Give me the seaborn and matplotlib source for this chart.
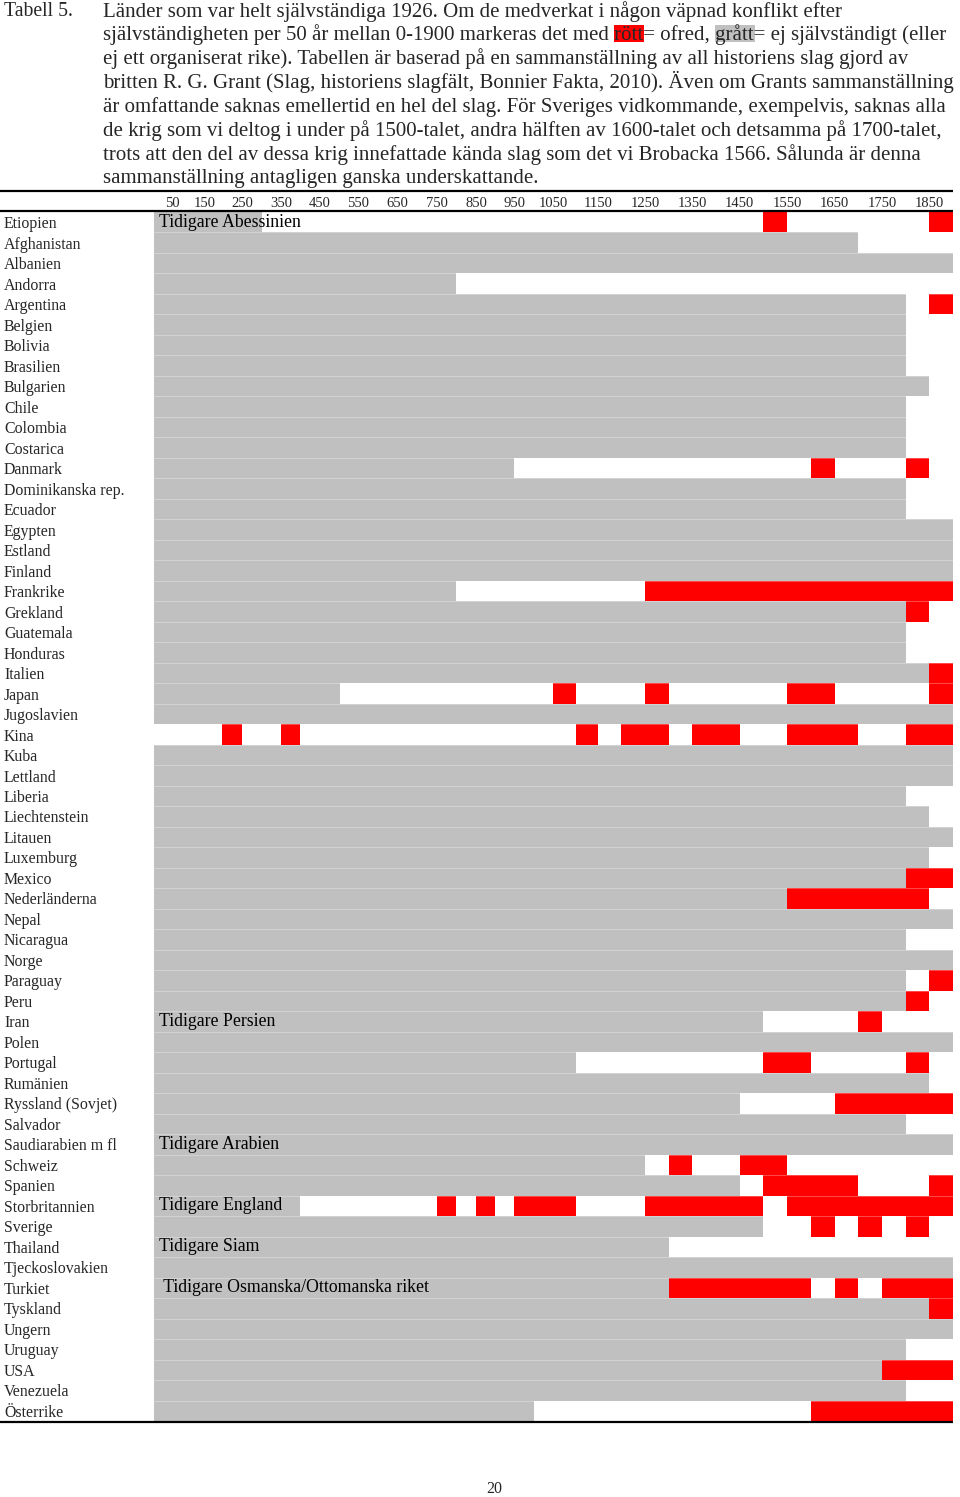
import numpy as np
import pandas as pd
import matplotlib
matplotlib.use("Agg")
import matplotlib.pyplot as plt
import seaborn as sns
from matplotlib.colors import ListedColormap
from matplotlib.lines import Line2D
from matplotlib.patches import Rectangle

# ---------------- data ----------------
countries = [
    "Etiopien", "Afghanistan", "Albanien", "Andorra", "Argentina", "Belgien",
    "Bolivia", "Brasilien", "Bulgarien", "Chile", "Colombia", "Costarica",
    "Danmark", "Dominikanska rep.", "Ecuador", "Egypten", "Estland", "Finland",
    "Frankrike", "Grekland", "Guatemala", "Honduras", "Italien", "Japan",
    "Jugoslavien", "Kina", "Kuba", "Lettland", "Liberia", "Liechtenstein",
    "Litauen", "Luxemburg", "Mexico", "Nederländerna", "Nepal", "Nicaragua",
    "Norge", "Paraguay", "Peru", "Iran", "Polen", "Portugal", "Rumänien",
    "Ryssland (Sovjet)", "Salvador", "Saudiarabien m fl", "Schweiz", "Spanien",
    "Storbritannien", "Sverige", "Thailand", "Tjeckoslovakien", "Turkiet",
    "Tyskland", "Ungern", "Uruguay", "USA", "Venezuela", "Österrike",
]

# first 50-year period (start year) that is not grey (1900 = grey throughout)
independent_from = [
    300, 1700, 1900, 800, 1800, 1800, 1800, 1800, 1850, 1800,
    1800, 1800, 950, 1800, 1800, 1900, 1900, 1900, 800, 1800,
    1800, 1800, 1850, 500, 1900, 0, 1900, 1900, 1800, 1850,
    1900, 1850, 1800, 1550, 1900, 1800, 1900, 1800, 1800, 1500,
    1900, 1100, 1850, 1450, 1800, 1900, 1250, 1450, 400, 1500,
    1300, 1900, 1300, 1850, 1900, 1800, 1750, 1800, 1000,
]

# start years of 50-year periods with armed conflict (red)
war_periods = [
    [1500, 1850], [], [], [], [1850], [], [], [], [], [],
    [], [], [1600, 1800], [], [], [], [], [],
    [1250, 1300, 1350, 1400, 1450, 1500, 1550, 1600, 1650, 1700, 1750, 1800, 1850],
    [1800], [], [], [1850],
    [1050, 1250, 1550, 1600, 1850],
    [],
    [200, 350, 1100, 1200, 1250, 1350, 1400, 1550, 1600, 1650, 1800, 1850],
    [], [], [], [], [], [],
    [1800, 1850],
    [1550, 1600, 1650, 1700, 1750, 1800],
    [], [], [], [1850], [1800], [1700], [],
    [1500, 1550, 1800],
    [],
    [1650, 1700, 1750, 1800, 1850],
    [], [],
    [1300, 1450, 1500],
    [1500, 1550, 1600, 1650, 1850],
    [750, 850, 950, 1000, 1050, 1250, 1300, 1350, 1400, 1450, 1550, 1600,
     1650, 1700, 1750, 1800, 1850],
    [1600, 1700, 1800],
    [], [],
    [1300, 1350, 1400, 1450, 1500, 1550, 1650, 1750, 1800, 1850],
    [1850], [], [],
    [1750, 1800, 1850],
    [],
    [1600, 1650, 1700, 1750, 1800, 1850],
]

tick_years = [50, 150, 250, 350, 450, 550, 650, 750, 850, 950, 1050,
              1150, 1250, 1350, 1450, 1550, 1650, 1750, 1850]

annotations = [
    ("Etiopien", "Tidigare Abessinien"),
    ("Iran", "Tidigare Persien"),
    ("Saudiarabien m fl", "Tidigare Arabien"),
    ("Storbritannien", "Tidigare England"),
    ("Thailand", "Tidigare Siam"),
    ("Turkiet", " Tidigare Osmanska/Ottomanska riket"),
]

title_label = "Tabell 5."
caption_lines = [
    "Länder som var helt självständiga 1926. Om de medverkat i någon väpnad konflikt efter",
    "självständigheten per 50 år mellan 0-1900 markeras det med rött= ofred, grått= ej självständigt (eller",
    "ej ett organiserat rike). Tabellen är baserad på en sammanställning av all historiens slag gjord av",
    "britten R. G. Grant (Slag, historiens slagfält, Bonnier Fakta, 2010). Även om Grants sammanställning",
    "är omfattande saknas emellertid en hel del slag. För Sveriges vidkommande, exempelvis, saknas alla",
    "de krig som vi deltog i under på 1500-talet, andra hälften av 1600-talet och detsamma på 1700-talet,",
    "trots att den del av dessa krig innefattade kända slag som det vi Brobacka 1566. Sålunda är denna",
    "sammanställning antagligen ganska underskattande.",
]
highlight_words = [("rött", "#FF0000"), ("grått", "#C0C0C0")]
page_number = "20"

assert len(countries) == len(independent_from) == len(war_periods)

# ---------------- build matrix ----------------
period_starts = np.arange(0, 1900, 50)
status = np.zeros((len(countries), len(period_starts)))
for i, (ind, wars) in enumerate(zip(independent_from, war_periods)):
    status[i, period_starts >= ind] = 1
    status[i, np.isin(period_starts, wars)] = 2
df = pd.DataFrame(status, index=countries, columns=period_starts)

# ---------------- style ----------------
sns.set_style("white")
plt.rcParams["font.family"] = ["Liberation Serif", "DejaVu Serif"]

W, H = 960, 1497
fig = plt.figure(figsize=(W / 100, H / 100), dpi=100)

TOP, BOT, LEFT, RIGHT = 212, 1421, 154, 953
ax = fig.add_axes([LEFT / W, 1 - BOT / H, (RIGHT - LEFT) / W, (BOT - TOP) / H])

cmap = ListedColormap(["#C0C0C0", "#FFFFFF", "#FF0000"])
sns.heatmap(df, ax=ax, cmap=cmap, vmin=-0.5, vmax=2.5, cbar=False,
            xticklabels=False, yticklabels=False)

# non-uniform column widths as in the original table
anchor_col = [0, 1, 2, 3, 4, 5, 6, 7, 8, 9, 10, 11, 12, 13, 14, 15, 16, 17, 18,
              19, 20, 21, 22, 23, 24, 25, 38]
anchor_px = [154, 172, 188, 205, 222, 242, 262, 281, 300, 320, 340, 358, 378,
             397, 417, 436.5, 456, 476, 494.5, 514, 534, 553, 576, 598, 621,
             645, 953]


def fwd(x):
    return np.interp(np.asarray(x, dtype=float), anchor_col, anchor_px)


def inv(p):
    return np.interp(np.asarray(p, dtype=float), anchor_px, anchor_col)


ax.set_xscale("function", functions=(fwd, inv))
ax.set_xlim(0, len(period_starts))
ax.set_ylim(len(countries), 0)

# subtle row separators
ax.hlines(np.arange(1, len(countries)), 0, len(period_starts),
          colors="white", alpha=0.35, lw=0.6)

# column labels on top
ax.xaxis.tick_top()
ax.set_xticks([y / 50 for y in tick_years], [str(y) for y in tick_years])
ax.xaxis.set_minor_locator(matplotlib.ticker.NullLocator())
ax.tick_params(axis="x", length=0, pad=1.5, labelsize=10.5,
               top=True, labeltop=True, bottom=False, labelbottom=False)

# country labels, left aligned at page margin
ax.set_yticks(np.arange(len(countries)) + 0.5, countries)
for lab in ax.get_yticklabels():
    lab.set_ha("left")
    lab.set_rotation(0)
ax.tick_params(axis="y", length=0, pad=(LEFT - 4) * 0.72, labelsize=11.4)

for s in ax.spines.values():
    s.set_visible(False)

for country, txt in annotations:
    i = countries.index(country)
    ax.annotate(txt, xy=(0, i + 0.5), xytext=(5 * 0.72, 0),
                textcoords="offset points", ha="left", va="center",
                fontsize=12.75, color="black")

# rules
for y_px in (191, 210.5, 1421.5):
    fig.add_artist(Line2D([0, RIGHT / W], [1 - y_px / H] * 2,
                          color="black", lw=1.6, solid_capstyle="butt"))

# caption
FS = 15.05
renderer = fig.canvas.get_renderer()


def text_w(s):
    t = fig.text(0, 0, s, fontsize=FS)
    w = t.get_window_extent(renderer).width
    t.remove()
    return w


fig.text(4 / W, 1 - 16.5 / H, title_label, fontsize=14.2, ha="left", va="baseline")
for k, line in enumerate(caption_lines):
    base = 16.5 + 23.85 * k
    fig.text(103 / W, 1 - base / H, line, fontsize=FS, ha="left",
             va="baseline", zorder=3)
    for word, col in highlight_words:
        pos = line.find(" " + word)
        if pos >= 0:
            prefix = line[:pos + 1 + len(word)]
            x1 = 103 + text_w(prefix)
            x0 = x1 - text_w(word)
            fig.add_artist(Rectangle((x0 / W, 1 - (base + 2) / H),
                                     (x1 - x0 + 1) / W, 17 / H,
                                     facecolor=col, edgecolor="none",
                                     transform=fig.transFigure, zorder=1))

fig.text(494 / W, 1 - 1489 / H, page_number, fontsize=11.5, ha="center",
         va="center")

fig.savefig("out.png", dpi=100)
